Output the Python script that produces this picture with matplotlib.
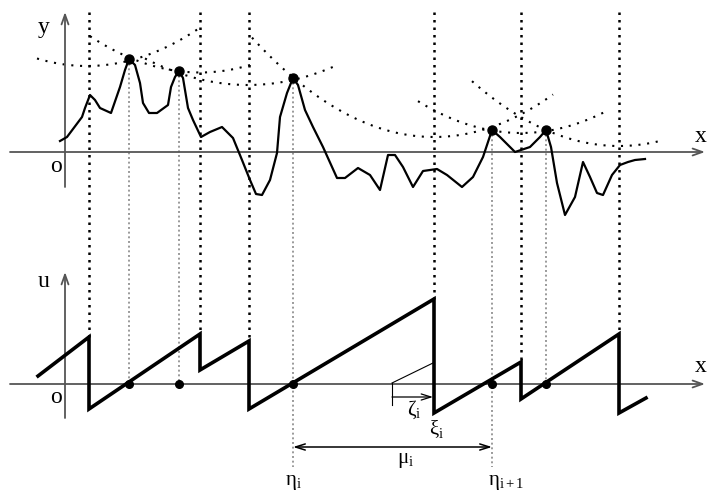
import numpy as np
import matplotlib
matplotlib.use("Agg")
import matplotlib.pyplot as plt

plt.rcParams['font.family'] = ['Liberation Serif', 'DejaVu Serif']
plt.rcParams['mathtext.fontset'] = 'custom'
plt.rcParams['mathtext.rm'] = 'Liberation Serif'
plt.rcParams['mathtext.it'] = 'Liberation Serif:italic'

# ---- data (diagram units: x to the right of the origin, y upward) ----
curve_x = [-5, 2, 17, 20, 25, 30, 35, 46, 55, 60, 64, 70, 75, 78, 84, 92, 103, 106, 110, 114,
           118, 123, 128, 136, 145, 157, 168, 177, 185, 191, 197, 205, 212, 215, 222, 228,
           233, 240, 248, 258, 272, 280, 293, 305, 315, 323, 330, 338, 348, 358, 372, 382,
           397, 408, 418, 427, 435, 450, 465, 475, 481, 486, 492, 500, 510, 518, 525, 532,
           538, 547, 555, 563, 570, 580]
curve_y = [11, 15, 35, 44, 57, 52, 44, 39, 65, 82, 93, 87, 69, 49, 39, 39, 47, 65, 75, 81,
           74, 44, 32, 15, 20, 25, 14, -8, -28, -42, -43, -28, -1, 35, 59, 74,
           67, 42, 25, 5, -26, -26, -16, -23, -38, -3, -3, -15, -35, -19, -17, -23,
           -35, -25, -5, 22, 15, 0, 5, 15, 22, 5, -31, -63, -45, -10, -25, -41,
           -43, -23, -13, -10, -8, -7]

peak_x = [64, 114, 228, 427, 481]
peak_y = [93, 81, 74, 22, 22]

shock_x = [24, 135, 184, 369, 456, 554]

saw_x = [-27, 24, 24, 135, 135, 184, 184, 369, 369, 456, 456, 554, 554, 581]
saw_u = [8, 47, -25, 50, 14, 43, -25, 85, -29, 22, -15, 50, -29, -14]

# parabolas: vertex x, vertex y, curvature, x from, x to
para_cx = [22, 135, 183, 369, 456, 554]
para_cy = [86, 79.5, 67, 15, 19, 6]
para_k = [0.003, 0.003, 0.0025, 0.003, 0.003, 0.003]
para_x0 = [-28, 25, 80, 187, 353, 407]
para_x1 = [135, 185, 272, 488, 543, 595]

BOT = -232  # vertical offset of the lower (u) panel

fig = plt.figure(figsize=(7.09, 4.97), dpi=100)
ax = fig.add_axes([0, 0, 1, 1])
ax.set_xlim(-65, 644)
ax.set_ylim(152 - 497, 152)
ax.axis('off')

def P(px, py):
    return px - 65, 152 - py

grey = '#555555'

# gray dotted verticals through touching points
gray_bottom = [0, 0, -83, -83, 0]
for x, y, yb in zip(peak_x, peak_y, gray_bottom):
    ax.plot([x, x], [y, BOT + yb], color='#9a9a9a', lw=1.4, ls=(0, (1, 1.4)), zorder=1)

# black dotted verticals at shocks, from top down to the sawtooth top
saw_top = {}
for i in range(1, len(saw_x) - 1):
    if saw_x[i] == saw_x[i + 1]:
        saw_top[saw_x[i]] = saw_u[i]
for x in shock_x:
    ax.plot([x, x], [140, BOT + saw_top[x]], color='black', lw=1.8, ls=(0, (1, 2.0)), zorder=1)

# parabolas
for cx, cy, k, x0, x1 in zip(para_cx, para_cy, para_k, para_x0, para_x1):
    xs = np.linspace(x0, x1, 200)
    ax.plot(xs, cy + k * (xs - cx) ** 2, color='black', lw=1.5, ls=(0, (1, 3.2)), zorder=2)

# axes
arrow_kw = dict(arrowstyle='->,head_length=0.7,head_width=0.25', lw=1.3, color=grey,
                shrinkA=0, shrinkB=0)
ax.annotate('', xy=(640, 0), xytext=(-55, 0), arrowprops=arrow_kw, zorder=3)
ax.annotate('', xy=(0, 140), xytext=(0, -35), arrowprops=arrow_kw, zorder=3)
ax.annotate('', xy=(640, BOT), xytext=(-55, BOT), arrowprops=arrow_kw, zorder=3)
ax.annotate('', xy=(0, BOT + 112), xytext=(0, BOT - 34), arrowprops=arrow_kw, zorder=3)

# curve and peaks
ax.plot(curve_x, curve_y, color='black', lw=1.6, zorder=4, solid_joinstyle='round')
ax.plot(peak_x, peak_y, 'o', color='black', ms=6.5, zorder=5)

# sawtooth
ax.plot(saw_x, np.array(saw_u) + BOT, color='black', lw=2.6, zorder=4, solid_joinstyle='miter')
ax.plot(peak_x, [BOT] * len(peak_x), 'o', color='black', ms=5.5, zorder=5)

# mu arrow
ax.annotate('', xy=(peak_x[3], BOT - 63), xytext=(peak_x[2], BOT - 63),
            arrowprops=dict(arrowstyle='<->,head_length=0.7,head_width=0.22', lw=1.1,
                            color='black', shrinkA=0, shrinkB=0), zorder=4)
# zeta construction
ax.plot([327, 368], [BOT + 1, BOT + 21], color='black', lw=0.8, zorder=4)
ax.plot([327, 327], [BOT + 1, BOT - 21], color='black', lw=0.8, zorder=4)
ax.annotate('', xy=(368, BOT - 13), xytext=(327, BOT - 13),
            arrowprops=dict(arrowstyle='->,head_length=0.7,head_width=0.22', lw=0.9,
                            color='black', shrinkA=0, shrinkB=0), zorder=4)

# labels
fs = 17
ax.text(*P(44, 33), 'y', fontsize=fs, ha='center', va='baseline')
ax.text(*P(56, 172), 'o', fontsize=fs, ha='center', va='baseline')
ax.text(*P(701, 142), 'x', fontsize=fs, ha='center', va='baseline')
ax.text(*P(44, 287), 'u', fontsize=fs, ha='center', va='baseline')
ax.text(*P(56, 403), 'o', fontsize=fs, ha='center', va='baseline')
ax.text(*P(701, 372), 'x', fontsize=fs, ha='center', va='baseline')

gs = 15
ax.text(*P(285, 485), r'$\mathrm{\eta_i}$', fontsize=gs, ha='left', va='baseline')
ax.text(*P(488, 485), r'$\mathrm{\eta_{i+1}}$', fontsize=gs, ha='left', va='baseline')
ax.text(*P(397, 463), r'$\mathrm{\mu_i}$', fontsize=gs, ha='left', va='baseline')
ax.text(*P(407, 415), r'$\mathrm{\zeta_i}$', fontsize=gs, ha='left', va='baseline')
ax.text(*P(429, 435), r'$\mathrm{\xi_i}$', fontsize=gs, ha='left', va='baseline')

fig.savefig('out.png', dpi=100)
